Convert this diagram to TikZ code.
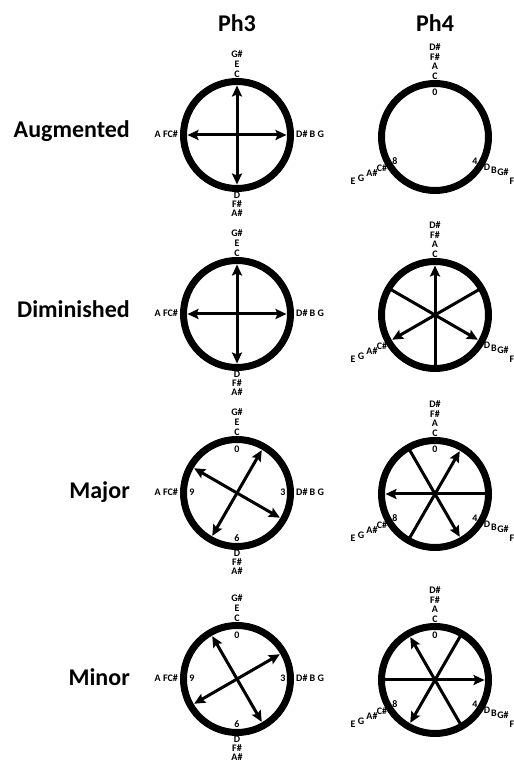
\documentclass[tikz,border=0pt]{standalone}
\usepackage{fontspec}
\setmainfont{Carlito}
\usepackage{tikz}
\usetikzlibrary{arrows.meta}
\tikzset{
  ring/.style={circle, draw=black, line width=7pt, minimum size=107pt,
    inner sep=0pt, outer sep=0pt},
  note/.style={font=\bfseries\fontsize{10}{11}\selectfont, inner sep=0pt},
  rowname/.style={font=\bfseries\fontsize{24}{26}\selectfont, anchor=base east,
    inner sep=0pt},
  colname/.style={font=\bfseries\fontsize{24}{26}\selectfont, anchor=base,
    inner sep=0pt},
  >={Stealth[length=11pt, width=10pt, inset=2pt]},
  dblarrow/.style={<->, line width=3pt, shorten <=4pt, shorten >=4pt},
  arrow/.style={->, line width=3pt, shorten >=4pt}
}
% note names round a Ph3 ring
\newcommand{\notesthree}{%
  \node[note] (gs) at (0,81) {G\#};
  \node[note] (e) at (0,71) {E};
  \node[note] (c) at (0,61) {C};
  \node[note] (d) at (0,-60) {D};
  \node[note] (fs) at (0,-69) {F\#};
  \node[note] (as) at (0,-78) {A\#};
  \node[note, anchor=east] (left) at (-59,1) {A FC\#};
  \node[note, anchor=west] (right) at (59,1) {D\# B G};
}
\newcommand{\numsthree}{%
  \node[note] (n0) at (0,44) {0};
  \node[note] (n3) at (46,1) {3};
  \node[note] (n6) at (0,-45) {6};
  \node[note] (n9) at (-45,1) {9};
}
% note names round a Ph4 ring
\newcommand{\notesfour}{%
  \node[note] (ds) at (0,90) {D\#};
  \node[note] (fs) at (0,80) {F\#};
  \node[note] (a) at (0,70.5) {A};
  \node[note] (c) at (0,61) {C};
  \node[note] (d) at (52,-30) {D};
  \node[note] (b) at (59,-33) {B};
  \node[note] (gs) at (68,-35) {G\#};
  \node[note] (f) at (77,-44) {F};
  \node[note] (cs) at (-53,-31) {C\#};
  \node[note] (as) at (-63,-36) {A\#};
  \node[note] (g) at (-74,-41) {G};
  \node[note] (e) at (-82,-44) {E};
}
\newcommand{\numsfour}{%
  \node[note] (n0) at (0,45) {0};
  \node[note] (n4) at (40,-24) {4};
  \node[note] (n8) at (-40,-24) {8};
}

\begin{document}
\begin{tikzpicture}[x=1pt, y=1pt]
  \useasboundingbox (0,0) rectangle (514,764);
  \node[colname] (ph3) at (237,732) {Ph3};
  \node[colname] (ph4) at (435,732) {Ph4};
  \node[rowname] (aug) at (130,626) {Augmented};
  \node[rowname] (dim) at (130,446) {Diminished};
  \node[rowname] (maj) at (130,265) {Major};
  \node[rowname] (min) at (130,78) {Minor};

  % Augmented
  \begin{scope}[shift={(237,629)}, name prefix=aug3-]
    \node[ring] (ring) at (0,0) {};
    \notesthree
    \draw[dblarrow] (ring.90) -- (ring.270);
    \draw[dblarrow] (ring.180) -- (ring.0);
  \end{scope}
  \begin{scope}[shift={(435,627)}, name prefix=aug4-]
    \node[ring] (ring) at (0,0) {};
    \notesfour
    \numsfour
  \end{scope}

  % Diminished
  \begin{scope}[shift={(237,450)}, name prefix=dim3-]
    \node[ring] (ring) at (0,0) {};
    \notesthree
    \draw[dblarrow] (ring.90) -- (ring.270);
    \draw[dblarrow] (ring.180) -- (ring.0);
  \end{scope}
  \begin{scope}[shift={(435,449)}, name prefix=dim4-]
    \node[ring] (ring) at (0,0) {};
    \notesfour
    \draw[arrow] (ring.270) -- (ring.90);
    \draw[arrow] (ring.150) -- (ring.-30);
    \draw[arrow] (ring.30) -- (ring.210);
  \end{scope}

  % Major
  \begin{scope}[shift={(237,271)}, name prefix=maj3-]
    \node[ring] (ring) at (0,0) {};
    \notesthree
    \numsthree
    \draw[dblarrow] (ring.60) -- (ring.240);
    \draw[dblarrow] (ring.150) -- (ring.-30);
  \end{scope}
  \begin{scope}[shift={(435,270)}, name prefix=maj4-]
    \node[ring] (ring) at (0,0) {};
    \notesfour
    \numsfour
    \draw[arrow] (ring.120) -- (ring.-60);
    \draw[arrow] (ring.240) -- (ring.60);
    \draw[arrow] (ring.0) -- (ring.180);
  \end{scope}

  % Minor
  \begin{scope}[shift={(237,85)}, name prefix=min3-]
    \node[ring] (ring) at (0,0) {};
    \notesthree
    \numsthree
    \draw[dblarrow] (ring.120) -- (ring.-60);
    \draw[dblarrow] (ring.30) -- (ring.210);
  \end{scope}
  \begin{scope}[shift={(435,84)}, name prefix=min4-]
    \node[ring] (ring) at (0,0) {};
    \notesfour
    \numsfour
    \draw[arrow] (ring.-60) -- (ring.120);
    \draw[arrow] (ring.60) -- (ring.240);
    \draw[arrow] (ring.180) -- (ring.0);
  \end{scope}
\end{tikzpicture}
\end{document}
